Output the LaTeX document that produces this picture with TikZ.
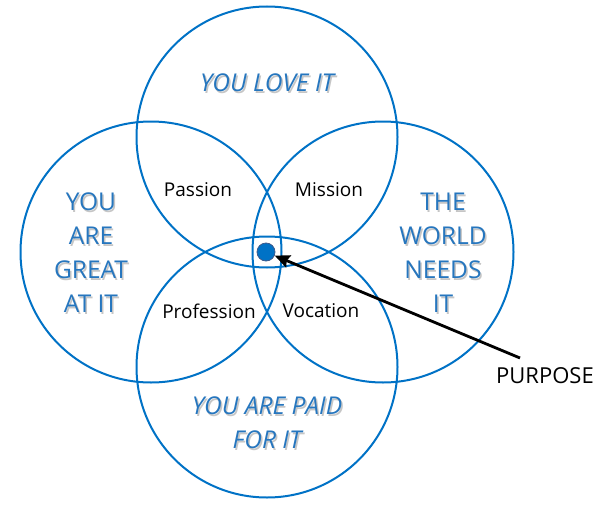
\documentclass[tikz,border=0pt]{standalone}
\usepackage{fontspec}
\setmainfont{Open Sans}
\usetikzlibrary{arrows.meta}
\definecolor{cblue}{RGB}{0,114,198}
\definecolor{tblue}{RGB}{38,118,190}
\definecolor{dotedge}{RGB}{60,90,140}
\begin{document}
\begin{tikzpicture}[x=1pt,y=-1pt,
  ring/.style={draw=cblue,line width=2pt},
  big/.style={text=tblue,font=\fontsize{24.5}{34}\selectfont,align=center,text depth=0pt},
  shade/.style={big,text=gray!45},
  small/.style={text=black,font=\fontsize{19}{20}\selectfont}]
\useasboundingbox (0,0) rectangle (611,506);
\coordinate (ct) at (267,137);
\coordinate (cl) at (151,252);
\coordinate (cr) at (383,252);
\coordinate (cb) at (267,367);
\draw[ring] (ct) circle[radius=130.5];
\draw[ring] (cl) circle[radius=130.5];
\draw[ring] (cr) circle[radius=130.5];
\draw[ring] (cb) circle[radius=130.5];
% shadows of big labels
\begin{scope}[shift={(1.5,1.5)}]
\node[shade] at (267,83) {\itshape YOU LOVE IT};
\node[shade] at (91,253) {YOU\\ARE\\GREAT\\AT IT};
\node[shade] at (443,253) {THE\\WORLD\\NEEDS\\IT};
\node[shade] at (267,423) {\itshape YOU ARE PAID\\\itshape FOR IT};
\end{scope}
\node[big] (love) at (267,83) {\itshape YOU LOVE IT};
\node[big] (great) at (91,253) {YOU\\ARE\\GREAT\\AT IT};
\node[big] (world) at (443,253) {THE\\WORLD\\NEEDS\\IT};
\node[big] (paid) at (267,423) {\itshape YOU ARE PAID\\\itshape FOR IT};
\node[small] (passion) at (198,190) {Passion};
\node[small] (mission) at (329,190) {Mission};
\node[small] (profession) at (209,311) {Profession};
\node[small] (vocation) at (321,311) {Vocation};
\node[circle,fill=cblue,draw=dotedge,line width=0.8pt,minimum size=18pt,inner sep=0pt] (dot) at (266,252) {};
\node[small,font=\fontsize{22}{24}\selectfont] (purpose) at (545,376) {PURPOSE};
\coordinate (astart) at (520,358);
\draw[line width=2.8pt,-{Stealth[length=15pt,width=13pt,inset=2pt]}] (astart) -- (dot);
\end{tikzpicture}
\end{document}
